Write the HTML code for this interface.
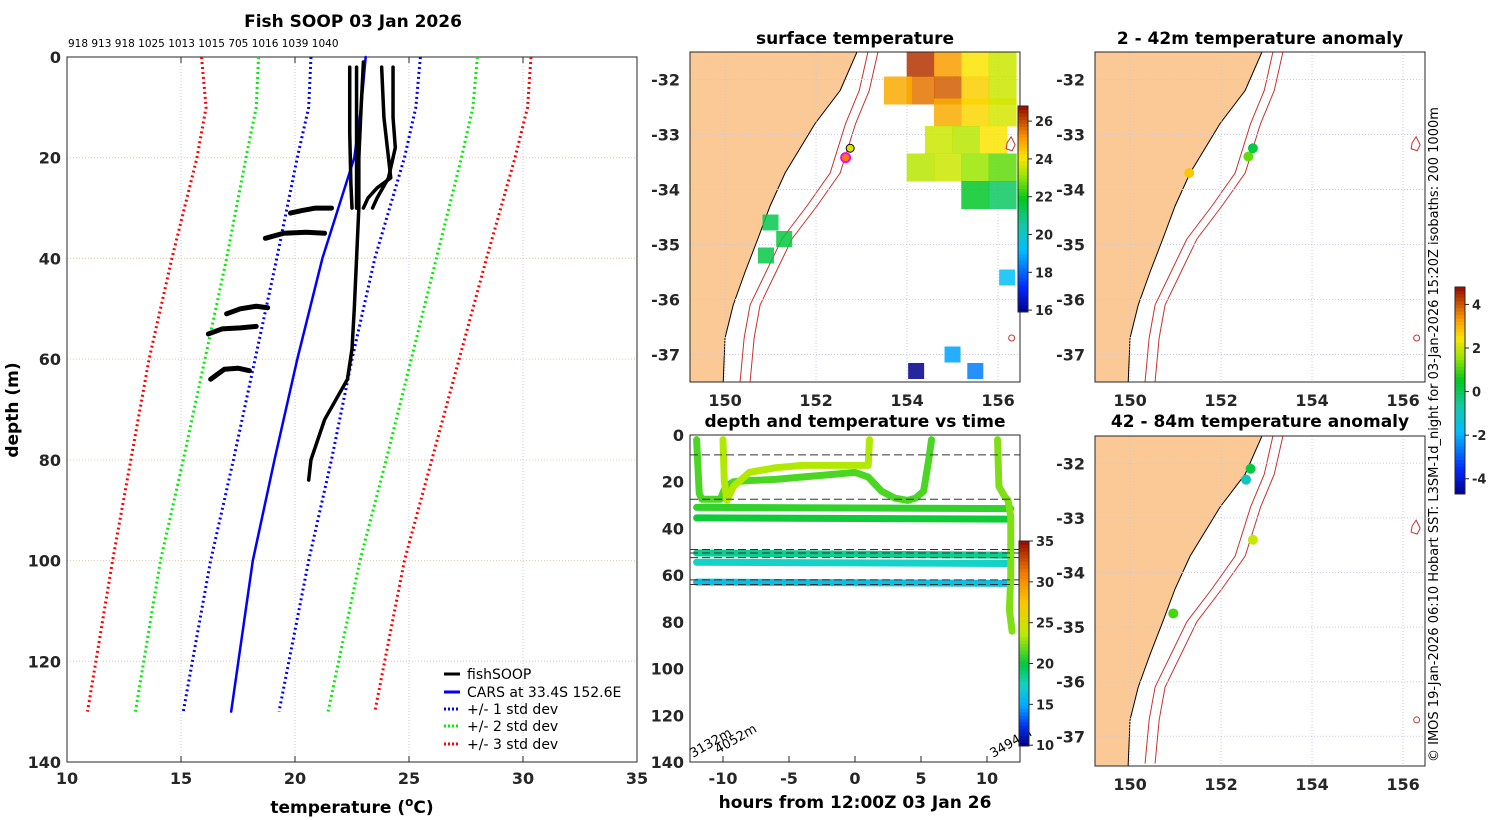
<!DOCTYPE html>
<html><head><meta charset="utf-8"><style>
html,body{margin:0;padding:0;background:#fff;}
svg{display:block;font-family:"DejaVu Sans","Liberation Sans",sans-serif;}
.tk{font-size:16px;font-weight:bold;fill:#262626;}
.ttl{font-size:17px;font-weight:bold;fill:#000;}
.sm{font-size:13px;fill:#262626;font-weight:bold;}
</style></head><body>
<svg id="fig" width="1500" height="820" viewBox="0 0 1500 820" xmlns="http://www.w3.org/2000/svg">
<rect x="0" y="0" width="1500" height="820" fill="#fff"/>
<text x="353" y="27" class="ttl" text-anchor="middle">Fish SOOP 03 Jan 2026</text>
<text x="68" y="47" font-size="10.5" fill="#000">918 913 918 1025 1013 1015 705 1016 1039 1040</text>
<g id="prof"></g>
<g id="legend">
 <line x1="444" y1="674" x2="460" y2="674" stroke="#000" stroke-width="3"/>
 <text x="467" y="679" font-size="14">fishSOOP</text>
 <line x1="444" y1="692" x2="460" y2="692" stroke="#0000ff" stroke-width="3"/>
 <text x="467" y="697" font-size="14">CARS at 33.4S 152.6E</text>
 <line x1="444" y1="709" x2="460" y2="709" stroke="#0000ff" stroke-width="3" stroke-dasharray="2,2"/>
 <text x="467" y="714" font-size="14">+/- 1 std dev</text>
 <line x1="444" y1="726" x2="460" y2="726" stroke="#00ee00" stroke-width="3" stroke-dasharray="2,2"/>
 <text x="467" y="731" font-size="14">+/- 2 std dev</text>
 <line x1="444" y1="744" x2="460" y2="744" stroke="#ff0000" stroke-width="3" stroke-dasharray="2,2"/>
 <text x="467" y="749" font-size="14">+/- 3 std dev</text>
</g>
<text x="352" y="813" class="ttl" text-anchor="middle">temperature (<tspan baseline-shift="super" font-size="12">o</tspan>C)</text>
<text transform="translate(18,410) rotate(-90)" class="ttl" text-anchor="middle">depth (m)</text>

<text x="855" y="44" class="ttl" text-anchor="middle">surface temperature</text>
<g id="mapSST"></g>
<text x="1260" y="44" class="ttl" text-anchor="middle">2 - 42m temperature anomaly</text>
<g id="mapA1"></g>
<text x="1260" y="427" class="ttl" text-anchor="middle">42 - 84m temperature anomaly</text>
<g id="mapA2"></g>
<text x="855" y="427" class="ttl" text-anchor="middle">depth and temperature vs time</text>
<g id="tplot"></g>
<text x="855" y="808" class="ttl" text-anchor="middle">hours from 12:00Z 03 Jan 26</text>
<g id="cbars"></g>
<text transform="translate(1438,762) rotate(-90)" font-size="13" fill="#000">© IMOS 19-Jan-2026 06:10 Hobart SST: L3SM-1d_night for 03-Jan-2026 15:20Z isobaths: 200  1000m</text>
</svg>
<script>
// ---------- profile data ----------
const stdDepths=[0,10,20,40,60,80,100,130];
const minus3=[15.9,16.1,15.7,14.6,13.6,12.8,12.0,10.9];
const minus2=[18.4,18.3,17.85,17.0,16.05,15.1,14.1,13.0];
const minus1=[20.7,20.6,20.1,19.2,18.25,17.3,16.3,15.1];
const carsMean=[23.1,22.9,22.6,21.2,20.1,19.1,18.15,17.2];
const plus1=[25.5,25.3,24.8,23.5,22.5,21.6,20.6,19.3];
const plus2=[28.0,27.8,27.3,26.2,25.1,24.0,22.85,21.45];
const plus3=[30.35,30.2,29.65,28.4,27.2,26.0,24.8,23.5];
const castTemps=[[22.4,22.4,22.45,22.5],[22.7,22.7,22.7],[23.0,22.9,22.8,22.8,22.7,22.6,22.5,22.3,21.8,21.3,21.0,20.7,20.6],[23.8,23.9,24.1,24.2,23.6,23.2,23.0],[24.3,24.3,24.4,24.1,23.6,23.4],[19.8,20.3,20.9,21.6],[18.7,19.5,20.5,21.3],[17.0,17.6,18.3,18.8],[16.2,16.8,17.6,18.3],[16.3,16.9,17.5,18.0]];
const castDepths=[[2,15,25,30],[2,20,30],[1,10,20,30,40,50,58,64,68,72,76,80,84],[2,12,20,24,26,28,30],[2,12,18,24,28,30],[31,30.5,30,30],[36,35,34.8,35],[51,50,49.5,49.8],[55,54,53.8,53.5],[64,62,61.8,62.3]];
const tempTicks=[10,15,20,25,30,35];
const depthTicks=[0,20,40,60,80,100,120,140];
// ---------- time plot data ----------
const hourTicks=[-10,-5,0,5,10];
const tDepthTicks=[0,20,40,60,80,100,120,140];
const dashDepths=[8.5,27.5,49,50.5,52.5,62,64];
const seriesTimes=[[-12,11.8],[-12,11.8],[-12,11.8],[-12,11.8],[-12,11.8],
 [-12,-11.8,-11.6,-10.2,-9.8,-9.2,-8,-6,-4,-2,0,1,2,3,4,4.6,5.2,5.6,5.8],
 [-10,-9.9,-9.7,-9.2,-8,-6,-4,-2,0,1.0,1.1],
 [10.8,10.9,11.3,11.6,11.8,11.8,11.7,11.9]];
const seriesDepths=[[31,31.5],[35.5,36],[50.5,51.5],[54.5,55],[63,63.5],
 [2,25,27.5,27.5,22,20,19.5,19,18,17,16,18,24,27,28,27,24,10,2],
 [2,20,28,22,16,14,13,13,13,13,2],
 [2,22,26,28,35,60,75,84]];
const seriesTemps=[21,20.3,18.5,17.5,16.3,21.5,23.5,22.5];
// ---------- map data ----------
const coastLat=[-31.5,-32.2,-32.8,-33.7,-34.3,-34.9,-35.5,-36.1,-36.7,-37.5];
const coastLon=[152.9,152.53,151.98,151.32,150.99,150.72,150.44,150.18,150.0,149.96];
const isoLon=[153.14,152.95,152.65,152.31,151.8,151.25,150.9,150.55,150.42,150.33];
const sstLon=[154.3,154.9,155.5,156.1,154.3,154.9,155.5,156.1,154.9,155.5,156.1,154.7,155.3,155.9,154.3,154.9,155.5,156.1,155.5,156.1,153.8,151.0,151.3,150.9,156.2,154.2,155.0,155.5];
const sstLat=[-31.7,-31.7,-31.7,-31.7,-32.2,-32.2,-32.2,-32.2,-32.6,-32.6,-32.6,-33.1,-33.1,-33.1,-33.6,-33.6,-33.6,-33.6,-34.1,-34.1,-32.2,-34.6,-34.9,-35.2,-35.6,-37.3,-37.0,-37.3];
const sstVal=[26.3,25.0,24.0,23.5,25.5,25.8,24.3,23.5,24.8,24.2,23.6,23.5,23.3,24.0,23.3,23.5,23.0,22.5,21.6,21.0,24.8,21.2,21.4,21.3,19.0,15.5,18.5,18.0];
const anom1Lon=[151.3,152.6,152.7];
const anom1Lat=[-33.7,-33.4,-33.25];
const anom1Val=[2.8,1.2,0.2];
const anom2Lon=[150.95,152.55,152.65,152.7];
const anom2Lat=[-34.75,-32.3,-32.1,-33.4];
const anom2Val=[1.0,-1.0,0.2,2.0];
const sstTicks=[16,18,20,22,24,26];
const anomTicks=[-4,-2,0,2,4];
const cbarTicks=[10,15,20,25,30,35];
const lonTicks=[150,152,154,156];
const latTicks=[-32,-33,-34,-35,-36,-37];

const NS="http://www.w3.org/2000/svg";
function mk(p,tag,at){const e=document.createElementNS(NS,tag);for(const k in at)e.setAttribute(k,at[k]);p.appendChild(e);return e;}
function cmap(st,v){v=Math.max(0,Math.min(1,v));
 for(let i=1;i<st.length;i++){if(v<=st[i][0]){const a=st[i-1],b=st[i];const f=(v-a[0])/(b[0]-a[0]);const c=a[1].map((x,j)=>Math.round(x+(b[1][j]-x)*f));return `rgb(${c})`;}}return 'rgb(150,10,0)';}
const JET=[[0,[0,0,140]],[0.12,[0,40,255]],[0.3,[0,190,255]],[0.42,[20,200,170]],[0.55,[0,200,30]],[0.66,[150,230,0]],[0.75,[250,230,0]],[0.85,[250,150,0]],[1,[150,10,0]]];
const TMAP=[[0,[0,0,130]],[0.1,[0,50,240]],[0.2,[0,170,255]],[0.3,[20,210,200]],[0.4,[0,200,60]],[0.55,[190,235,0]],[0.7,[250,200,0]],[0.85,[240,120,0]],[1,[150,10,0]]];
const jet=v=>cmap(JET,v), tmap=v=>cmap(TMAP,v);

// ---------- profile plot ----------
const P=document.getElementById('prof');
const px=t=>67+(t-10)*(570/25), py=d=>57+d*(705/140);
tempTicks.slice(1,-1).forEach(t=>{const l=mk(P,'line',{x1:px(t),y1:57,x2:px(t),y2:762,stroke:'#c8c8e8','stroke-width':1,'stroke-dasharray':'1,2'});

});
depthTicks.slice(1,-1).forEach(d=>{const l=mk(P,'line',{x1:67,y1:py(d),x2:637,y2:py(d),stroke:'#e0c8a8','stroke-width':1,'stroke-dasharray':'1,2'});

});
const frame=mk(P,'rect',{x:67,y:57,width:570,height:705,fill:'none',stroke:'#262626','stroke-width':1});


tempTicks.forEach(t=>{const tx=mk(P,'text',{x:px(t),y:784,class:'tk','text-anchor':'middle'});tx.textContent=t;


mk(P,'line',{x1:px(t),y1:762,x2:px(t),y2:756,stroke:'#262626'});mk(P,'line',{x1:px(t),y1:57,x2:px(t),y2:63,stroke:'#262626'});});
depthTicks.forEach(d=>{const tx=mk(P,'text',{x:61,y:py(d)+6,class:'tk','text-anchor':'end'});tx.textContent=d;

});
function pline(temps,depths,col,w,dash,name){const pts=temps.map((t,i)=>px(t)+','+py(depths[i])).join(' ');
 const e=mk(P,'polyline',{points:pts,fill:'none',stroke:col,'stroke-width':w,'stroke-linejoin':'round'});
 if(dash){e.setAttribute('stroke-dasharray',dash);}else{e.setAttribute('stroke-linecap','round');}
 
 }
pline(minus3,stdDepths,'#ff0000',3,'2,3','minus-3std-line');
pline(plus3,stdDepths,'#ff0000',3,'2,3','plus-3std-line');
pline(minus2,stdDepths,'#00ee00',3,'2,3','minus-2std-line');
pline(plus2,stdDepths,'#00ee00',3,'2,3','plus-2std-line');
pline(minus1,stdDepths,'#0000ff',3,'2,3','minus-1std-line');
pline(plus1,stdDepths,'#0000ff',3,'2,3','plus-1std-line');
pline(carsMean,stdDepths,'#0000ff',2.5,null,'cars-mean-line');
castTemps.forEach((t,i)=>pline(t,castDepths[i],'#000',i<5?3.5:5,null,'fishsoop-cast'));

// ---------- maps ----------
function drawMap(G,x0,y0,degPx,isSST){
 const w=330,h=330;
 const mx=lon=>x0+(lon-149.23)*45.5, my=lat=>y0+(-31.5-lat)*degPx;
 const cid='clip'+x0+'_'+y0;const cp=mk(G,'clipPath',{id:cid});mk(cp,'rect',{x:x0,y:y0,width:w,height:h});
 const g=mk(G,'g',{'clip-path':`url(#${cid})`});
 let land='M'+x0+','+(y0-2)+' '+coastLon.map((l,i)=>mx(l)+','+my(coastLat[i])).join(' ')+' L'+mx(coastLon[coastLon.length-1])+','+(y0+h+2)+' L'+x0+','+(y0+h+2)+' Z';
 const lp=mk(g,'path',{d:land,fill:'#fbc995',stroke:'#000','stroke-width':1});
 
 
 [0,0.22].forEach(o=>{const e=mk(g,'polyline',{points:isoLon.map((l,i)=>mx(l+o)+','+my(coastLat[i])).join(' '),fill:'none',stroke:'#c83232','stroke-width':1});
 
 });
 lonTicks.forEach(l=>{mk(g,'line',{x1:mx(l),y1:y0,x2:mx(l),y2:y0+h,stroke:'#c8c8e8','stroke-dasharray':'1,2'});});
 latTicks.forEach(l=>{mk(g,'line',{x1:x0,y1:my(l),x2:x0+w,y2:my(l),stroke:'#c8c8e8','stroke-dasharray':'1,2'});});
 if(isSST){sstLon.forEach((l,i)=>{const c=jet((sstVal[i]-15.5)/(26.8-15.5));
   const big=i<21;
   const r=mk(g,'rect',{x:mx(l)-(big?14:8),y:my(sstLat[i])-(big?14:8),width:big?28:16,height:big?28:16,fill:c,opacity:0.85});
   
   });
   const c1=mk(g,'circle',{cx:mx(152.75),cy:my(-33.25),r:4,fill:'#dde000',stroke:'#000'});
   
   
   const c2=mk(g,'circle',{cx:mx(152.65),cy:my(-33.42),r:4.5,fill:'#f08000',stroke:'#ff00ff','stroke-width':2});
   
   }
 mk(g,'path',{d:`M${mx(156.2)},${my(-33.15)} l4,-6 l4,8 l-3,6 l-6,-2 z`,fill:'none',stroke:'#c83232'});
 mk(g,'circle',{cx:mx(156.3),cy:my(-36.7),r:3,fill:'none',stroke:'#c83232'});
 const fr=mk(G,'rect',{x:x0,y:y0,width:w,height:h,fill:'none',stroke:'#262626'});
 
 
 lonTicks.forEach(l=>{const t=mk(G,'text',{x:mx(l),y:y0+h+24,class:'tk','text-anchor':'middle'});t.textContent=l;
  
  });
 latTicks.forEach(l=>{const t=mk(G,'text',{x:x0-10,y:my(l)+6,class:'tk','text-anchor':'end'});t.textContent=l;
  
  });
 return {mx,my,g};
}
drawMap(document.getElementById('mapSST'),690,52,55,true);
const A1=drawMap(document.getElementById('mapA1'),1095,52,55,false);
anom1Lon.forEach((l,i)=>{const c=mk(A1.g,'circle',{cx:A1.mx(l),cy:A1.my(anom1Lat[i]),r:5,fill:jet((anom1Val[i]+4.7)/9.5)});
 
 });
const A2=drawMap(document.getElementById('mapA2'),1095,436,54.6,false);
anom2Lon.forEach((l,i)=>{const c=mk(A2.g,'circle',{cx:A2.mx(l),cy:A2.my(anom2Lat[i]),r:5,fill:jet((anom2Val[i]+4.7)/9.5)});
 
 });

// ---------- time plot ----------
const T=document.getElementById('tplot');
const tx=h=>855+h*13.2, ty=d=>435+d*(327/140);
mk(T,'rect',{x:690,y:435,width:330,height:327,fill:'none',stroke:'#262626'});
hourTicks.forEach(h=>{const t=mk(T,'text',{x:tx(h),y:784,class:'tk','text-anchor':'middle'});t.textContent=h;
 
 
 mk(T,'line',{x1:tx(h),y1:762,x2:tx(h),y2:756,stroke:'#262626'});});
tDepthTicks.forEach(d=>{const t=mk(T,'text',{x:684,y:ty(d)+6,class:'tk','text-anchor':'end'});t.textContent=d;
 
 });
seriesTimes.forEach((ts,i)=>{const pts=ts.map((t,j)=>tx(t)+','+ty(seriesDepths[i][j])).join(' ');
 const e=mk(T,'polyline',{points:pts,fill:'none',stroke:tmap((seriesTemps[i]-10)/25),'stroke-width':7,'stroke-linecap':'round','stroke-linejoin':'round'});
 
 });
dashDepths.forEach(d=>{const l=mk(T,'line',{x1:690,y1:ty(d),x2:1020,y2:ty(d),stroke:'#333','stroke-width':1,'stroke-dasharray':'8,4'});
 
 });
[['3132m',693,758],['4052m',718,754],['3494m',993,758]].forEach(a=>{const t=mk(T,'text',{transform:`translate(${a[1]},${a[2]}) rotate(-30)`,'font-size':13,fill:'#000'});t.textContent=a[0];
 
 });

// ---------- colorbars ----------
const C=document.getElementById('cbars');
function cbar(x,y0,y1,vmin,vmax,ticks,name,fn){
 const n=60,h=(y1-y0)/n;
 for(let i=0;i<n;i++){mk(C,'rect',{x:x,y:y1-(i+1)*h,width:10,height:h+0.5,fill:fn((i+0.5)/n)});}
 const f=mk(C,'rect',{x:x,y:y0,width:10,height:y1-y0,fill:'none',stroke:'#262626'});
 
 
 ticks.forEach(v=>{const yy=y1-(v-vmin)/(vmax-vmin)*(y1-y0);
  const t=mk(C,'text',{x:x+17,y:yy+5,class:'sm'});t.textContent=v;
  
  
  mk(C,'line',{x1:x+10,y1:yy,x2:x+14,y2:yy,stroke:'#262626'});});
}
cbar(1018,106,312,15.9,26.8,sstTicks,'sst-colorbar',jet);
cbar(1019,541,746,9.9,35,cbarTicks,'time-colorbar',tmap);
cbar(1455,287,494,-4.7,4.8,anomTicks,'anomaly-colorbar',jet);
</script>
</body></html>
